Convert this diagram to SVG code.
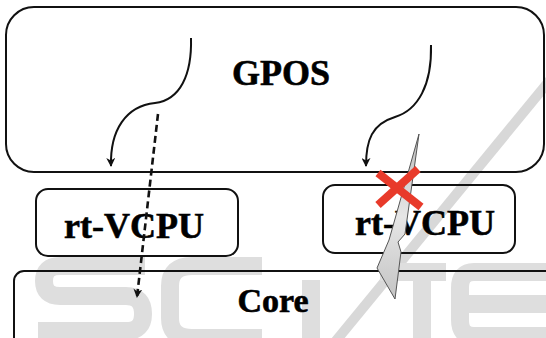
<svg xmlns="http://www.w3.org/2000/svg" width="546" height="338" viewBox="0 0 546 338">
  <style>
    .box { fill: none; stroke: #111; stroke-width: 2; }
    .lbl { font-family: "Liberation Serif", "Times New Roman", serif; font-weight: bold; fill: #000; text-anchor: middle; stroke: #000; stroke-width: 0.6; }
    .curve { fill: none; stroke: #111; stroke-width: 2; }
    .dash { fill: none; stroke: #111; stroke-width: 2.6; stroke-dasharray: 7 4; }
    .wm { fill: none; stroke: #dedede; stroke-width: 18; }
    .x { stroke: #e83a2a; stroke-width: 8; }
  </style>
  <defs>
    <marker id="ah" viewBox="0 0 10 10" refX="9" refY="5" markerWidth="9" markerHeight="9" markerUnits="userSpaceOnUse" orient="auto">
      <path d="M0,0 L10,5 L0,10 L3,5 z" fill="#111"/>
    </marker>
    <linearGradient id="bolt" x1="0" y1="0" x2="0" y2="1">
      <stop offset="0" stop-color="#bdbdbd"/>
      <stop offset="0.5" stop-color="#e6e6e6"/>
      <stop offset="1" stop-color="#c4c4c4"/>
    </linearGradient>
  </defs>

  <rect width="546" height="338" fill="#fff"/>

  <g id="watermark">
    <line x1="550" y1="80" x2="335" y2="342" stroke="#d8d8d8" stroke-width="10"/>
    <path class="wm" d="M145,266 H60 Q44,266 44,281 Q44,296 60,296 H126 Q143,296 143,314 Q143,331 126,331 H38"/>
    <path class="wm" d="M262,266 H192 Q170,266 170,286 V318 Q170,338 192,338 H262"/>
    <line class="wm" x1="311" y1="280" x2="311" y2="342"/>
    <line class="wm" x1="380" y1="272" x2="446" y2="272"/>
    <line class="wm" x1="422" y1="272" x2="422" y2="342"/>
    <path class="wm" d="M546,272 H474 Q460,272 460,288 V320 Q460,336 474,336 H546 M460,304 H546"/>
  </g>

  <g id="gpos">
    <rect class="box" x="6" y="7" width="538" height="165" rx="28"/>
    <text class="lbl" x="281" y="85" font-size="36">GPOS</text>
  </g>

  <g id="vcpu1">
    <rect class="box" x="36" y="189" width="202" height="67" rx="12"/>
    <text class="lbl" x="134" y="238" font-size="36">rt-VCPU</text>
  </g>

  <g id="vcpu2">
    <rect class="box" x="323" y="185" width="192" height="68" rx="12"/>
    <text class="lbl" x="425" y="235" font-size="36">rt-VCPU</text>
  </g>

  <g id="core">
    <rect class="box" x="14" y="271" width="560" height="100" rx="10"/>
    <text class="lbl" x="273" y="312" font-size="34">Core</text>
  </g>

  <g id="connectors">
    <path class="curve" d="M191,38 C192,75 180,100 155,103 C126,106 110,130 111,166" marker-end="url(#ah)"/>
    <path class="curve" d="M431,45 C432,85 418,110 395,117 C372,124 366,140 366,166" marker-end="url(#ah)"/>
    <path class="dash" d="M158,114 L137,297" marker-end="url(#ah)"/>
  </g>

  <g id="blocked">
    <polygon points="419,134 405,234 398,242 401,252 395,299 377,268 389,240 393,226" fill="url(#bolt)" stroke="#555" stroke-width="1"/>
    <line class="x" x1="378" y1="173" x2="421" y2="207"/>
    <line class="x" x1="418" y1="169" x2="378" y2="205"/>
  </g>
</svg>
